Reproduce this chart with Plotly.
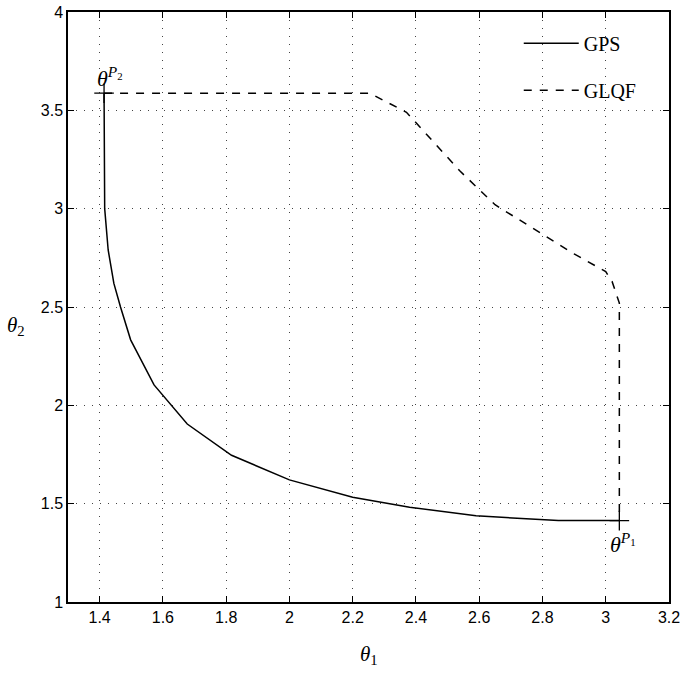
import plotly.graph_objects as go

# GPS curve (theta1, theta2)
gps_t1 = [1.414, 1.414, 1.416, 1.427, 1.445, 1.466, 1.498, 1.572, 1.677, 1.817, 2.0, 2.2, 2.38, 2.59, 2.79, 2.85, 3.043]
gps_t2 = [3.587, 3.3, 3.0, 2.79, 2.62, 2.5, 2.333, 2.104, 1.905, 1.746, 1.621, 1.533, 1.482, 1.438, 1.421, 1.414, 1.414]

# GLQF curve
glqf_t1 = [1.414, 2.254, 2.37, 2.45, 2.54, 2.65, 2.8, 2.9, 3.0, 3.02, 3.043, 3.043]
glqf_t2 = [3.587, 3.587, 3.49, 3.35, 3.19, 3.02, 2.87, 2.77, 2.68, 2.63, 2.52, 1.414]

# endpoints P1, P2
pt_t1 = [3.043, 1.414]
pt_t2 = [1.414, 3.587]

x_ticks = [1.4, 1.6, 1.8, 2.0, 2.2, 2.4, 2.6, 2.8, 3.0, 3.2]
x_ticklabels = ["1.4", "1.6", "1.8", "2", "2.2", "2.4", "2.6", "2.8", "3", "3.2"]
y_ticks = [1, 1.5, 2, 2.5, 3, 3.5, 4]
y_ticklabels = ["1", "1.5", "2", "2.5", "3", "3.5", "4"]

serif = "Liberation Serif, Times New Roman, serif"
sans = "Liberation Sans, Arial, sans-serif"

fig = go.Figure()
fig.add_trace(go.Scatter(x=gps_t1, y=gps_t2, mode="lines", name="GPS",
                         line=dict(color="black", width=1.5), legendgroup="a"))
fig.add_trace(go.Scatter(x=glqf_t1, y=glqf_t2, mode="lines", name="GLQF",
                         line=dict(color="black", width=1.5, dash="8px,8px"), legendgroup="b"))
fig.add_trace(go.Scatter(x=pt_t1, y=pt_t2, mode="markers", showlegend=False,
                         marker=dict(symbol="cross-thin", size=14,
                                     line=dict(color="black", width=1.3))))

axis_common = dict(showline=True, linecolor="black", linewidth=1.5, mirror="ticks",
                   ticks="inside", ticklen=6, tickcolor="black", tickwidth=1,
                   showgrid=True, gridcolor="#444", griddash="1px,7px", gridwidth=1.2,
                   zeroline=False, automargin=False,
                   tickfont=dict(family=sans, size=16, color="black"))

fig.update_xaxes(range=[1.3, 3.2], tickvals=x_ticks, ticktext=x_ticklabels, **axis_common)
fig.update_yaxes(range=[1, 4], tickvals=y_ticks, ticktext=y_ticklabels, **axis_common)

fig.add_annotation(text="<i>θ</i><sub>1</sub>", xref="paper", yref="paper",
                   x=0.5, y=-0.09, yanchor="middle", showarrow=False,
                   font=dict(family=serif, size=21, color="black"))
fig.add_annotation(text="<i>θ</i><sub>2</sub>", xref="paper", yref="paper",
                   x=-0.068, y=0.468, xanchor="right", showarrow=False,
                   font=dict(family=serif, size=21, color="black"))
fig.add_annotation(text="<i>θ</i><sup><i>P</i><sub>2</sub></sup>", x=1.414, y=3.587,
                   xanchor="center", yanchor="bottom", xshift=6, yshift=0, showarrow=False,
                   font=dict(family=serif, size=22, color="black"))
fig.add_annotation(text="<i>θ</i><sup><i>P</i><sub>1</sub></sup>", x=3.043, y=1.414,
                   xanchor="center", yanchor="top", xshift=4, yshift=-6, showarrow=False,
                   font=dict(family=serif, size=22, color="black"))

fig.update_layout(
    width=682, height=673,
    margin=dict(l=68, r=13, t=12, b=71, autoexpand=False),
    paper_bgcolor="white", plot_bgcolor="white",
    legend=dict(x=0.75, y=0.98, xanchor="left", yanchor="top",
                bgcolor="rgba(0,0,0,0)", borderwidth=0, itemwidth=55,
                font=dict(family=serif, size=20, color="black"),
                tracegroupgap=18, traceorder="grouped"),
)

fig.write_html("out.html", config={"displayModeBar": False},
               post_script="document.body.style.margin='0';")
